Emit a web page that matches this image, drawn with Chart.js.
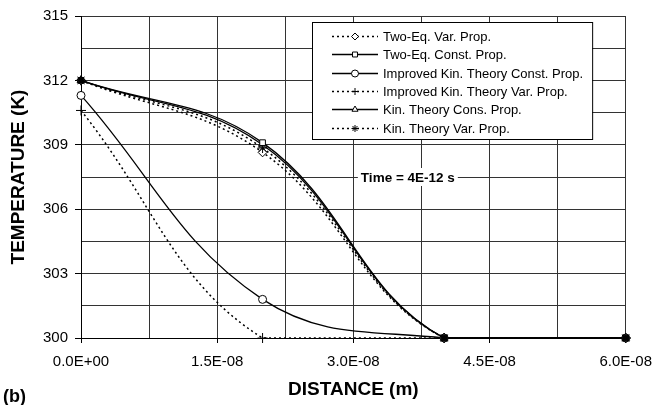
<!DOCTYPE html>
<html>
<head>
<meta charset="utf-8">
<script src="https://cdn.jsdelivr.net/npm/chart.js@4/dist/chart.umd.min.js"></script>
<style>
  html, body { margin: 0; padding: 0; background: #fff; }
  #wrap { width: 662px; height: 405px; position: relative; }
  canvas { display: block; }
</style>
</head>
<body>
<div id="wrap"><canvas id="c" width="662" height="405"></canvas></div>
<script>
// ---- data ----
const distances = [0, 2e-8, 4e-8, 6e-8];
const seriesNames = [
  'Two-Eq. Var. Prop.',
  'Two-Eq. Const. Prop.',
  'Improved Kin. Theory Const. Prop.',
  'Improved Kin. Theory Var. Prop.',
  'Kin. Theory Cons. Prop.',
  'Kin. Theory Var. Prop.'
];
const twoEqVar     = [312.0, 308.65, 300.0, 300.0];
const twoEqConst   = [312.0, 309.10, 300.0, 300.0];
const impKinConst  = [311.3, 301.80, 300.0, 300.0];
const impKinVar    = [310.6, 300.00, 300.0, 300.0];
const kinConst     = [312.0, 309.00, 300.0, 300.0];
const kinVar       = [312.0, 308.85, 300.0, 300.0];
const xTickLabels = ['0.0E+00', '1.5E-08', '3.0E-08', '4.5E-08', '6.0E-08'];
const yTickLabels = ['300', '303', '306', '309', '312', '315'];
const annotationText = 'Time = 4E-12 s';
const annotationAt = { x: 3.6e-8, y: 307.5 };

// ---- styles ----
const FONT = "'Liberation Sans', Arial, Helvetica, sans-serif";
const dotted = [2, 3];
const styles = [
  { dash: dotted, point: 'rectRot', r: 4.5, order: 2 },
  { dash: [],     point: 'rect',    r: 4,   order: 0 },
  { dash: [],     point: 'circle',  r: 4,   order: 2 },
  { dash: dotted, point: 'cross',   r: 5,   order: 2 },
  { dash: [],     point: 'triangle',r: 4.5, order: 2 },
  { dash: dotted, point: 'star',    r: 5,   order: 1 }
];
const values = [twoEqVar, twoEqConst, impKinConst, impKinVar, kinConst, kinVar];

const datasets = values.map((vals, i) => ({
  label: seriesNames[i],
  data: distances.map((x, k) => ({ x: x, y: vals[k] })),
  order: styles[i].order,
  borderColor: '#000',
  borderWidth: styles[i].dash.length ? 1.5 : 1.3,
  borderDash: styles[i].dash,
  pointStyle: styles[i].point,
  pointRadius: styles[i].r,
  pointBorderColor: '#000',
  // overlapping markers of all series look solid black in the original
  pointBackgroundColor: (c) => (styles[i].point === 'rect' && c.dataIndex !== 1 ? '#000' : '#fff'),
  pointBorderWidth: 1,
  tension: 0.4,
  clip: false,
  fill: false
}));

function drawMarker(ctx, style, r, x, y) {
  if (Chart.helpers && Chart.helpers.drawPoint) {
    Chart.helpers.drawPoint(ctx, { pointStyle: style, radius: r, rotation: 0, borderWidth: 1 }, x, y);
  }
}

const overlayPlugin = {
  id: 'overlay',
  afterDraw(chart) {
    const ctx = chart.ctx;
    const xs = chart.scales.x, ys = chart.scales.y;
    // annotation
    ctx.save();
    ctx.font = 'bold 13.5px ' + FONT;
    const ax = xs.getPixelForValue(annotationAt.x);
    const ay = ys.getPixelForValue(annotationAt.y);
    const tw = ctx.measureText(annotationText).width;
    ctx.fillStyle = '#fff';
    ctx.fillRect(ax - tw / 2 - 3, ay - 9, tw + 6, 18);
    ctx.fillStyle = '#000';
    ctx.textAlign = 'center';
    ctx.textBaseline = 'middle';
    ctx.fillText(annotationText, ax, ay + 1);
    ctx.restore();

    // legend
    ctx.save();
    ctx.font = '13px ' + FONT;
    let maxW = 0;
    datasets.forEach(ds => { maxW = Math.max(maxW, ctx.measureText(ds.label).width); });
    const lx = 312, ly = 22, lh = 117;
    const textX = 383;
    const lw = textX + maxW + 9 - lx;
    ctx.fillStyle = '#fff';
    ctx.fillRect(lx, ly, lw, lh);
    ctx.strokeStyle = '#000';
    ctx.lineWidth = 1;
    ctx.strokeRect(lx + 0.5, ly + 0.5, lw, lh);
    ctx.textBaseline = 'middle';
    ctx.textAlign = 'left';
    datasets.forEach((ds, i) => {
      const y = Math.round(ly + 14 + i * 18.3) + 0.5;
      ctx.save();
      ctx.strokeStyle = '#000';
      ctx.lineWidth = ds.borderWidth;
      ctx.setLineDash(ds.borderDash);
      ctx.beginPath();
      ctx.moveTo(332, y);
      ctx.lineTo(378, y);
      ctx.stroke();
      ctx.setLineDash([]);
      ctx.fillStyle = '#fff';
      ctx.strokeStyle = '#000';
      ctx.lineWidth = 1;
      drawMarker(ctx, ds.pointStyle, 3.5, 355, y);
      ctx.restore();
      ctx.fillStyle = '#000';
      ctx.fillText(ds.label, textX, y + 0.5);
    });
    ctx.restore();

    // panel label
    ctx.save();
    ctx.font = 'bold 18px ' + FONT;
    ctx.fillStyle = '#000';
    ctx.textBaseline = 'middle';
    ctx.fillText('(b)', 3, 397);
    ctx.restore();
  }
};

new Chart(document.getElementById('c'), {
  type: 'line',
  data: { datasets: datasets },
  plugins: [overlayPlugin],
  options: {
    responsive: false,
    animation: false,
    devicePixelRatio: 1,
    layout: { padding: { left: 0, right: 31, top: 15, bottom: 0 } },
    plugins: { legend: { display: false }, tooltip: { enabled: false } },
    scales: {
      x: {
        type: 'linear',
        min: 0, max: 6e-8,
        afterFit(s) { s.height = 67; },
        ticks: {
          stepSize: 7.5e-9,
          autoSkip: false,
          maxRotation: 0,
          padding: 10,
          color: '#000',
          font: { family: FONT, size: 15 },
          callback: (v, i) => (i % 2 === 0 ? xTickLabels[i / 2] : '')
        },
        grid: {
          color: '#333',
          lineWidth: 1,
          tickLength: 5,
          tickColor: (c) => (c.index % 2 === 0 ? '#000' : 'rgba(0,0,0,0)')
        },
        border: { color: '#000', width: 1 },
        title: {
          display: true,
          text: 'DISTANCE (m)',
          color: '#000',
          font: { family: FONT, size: 19, weight: 'bold' },
          padding: { top: 0, bottom: 4 }
        }
      },
      y: {
        min: 300, max: 315,
        afterFit(s) { s.width = 81; },
        ticks: {
          stepSize: 1.5,
          autoSkip: false,
          padding: 7,
          color: '#000',
          font: { family: FONT, size: 15 },
          callback: (v, i) => (i % 2 === 0 ? yTickLabels[i / 2] : '')
        },
        grid: {
          color: '#333',
          lineWidth: 1,
          tickLength: 6,
          tickColor: (c) => (c.index % 2 === 0 ? '#000' : 'rgba(0,0,0,0)')
        },
        border: { color: '#000', width: 1 },
        title: {
          display: true,
          text: 'TEMPERATURE (K)',
          color: '#000',
          font: { family: FONT, size: 19, weight: 'bold' },
          padding: { top: 7, bottom: 0 }
        }
      }
    }
  }
});
</script>
</body>
</html>
